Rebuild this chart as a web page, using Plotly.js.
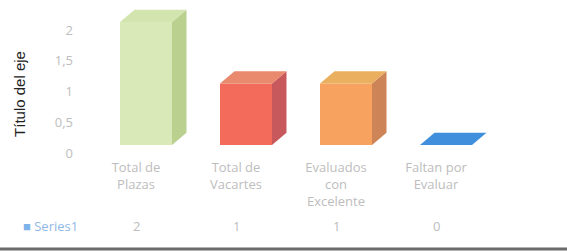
<!DOCTYPE html>
<html><head><meta charset="utf-8">
<script src="https://cdn.plot.ly/plotly-3.0.1.min.js"></script>
<style>html,body{margin:0;padding:0;background:#fff}#c{width:567px;height:251px}</style>
</head><body><div id="c"></div>
<script>
const categories = ["Total de<br>Plazas", "Total de<br>Vacartes", "Evaluados<br>con<br>Excelente", "Faltan por<br>Evaluar"];
const seriesName = "Series1";
const values = [2, 1, 1, 0];
const yTicks = [0, 0.5, 1, 1.5, 2];
const frontColors = ["#d9eab8", "#f36b5b", "#f7a25e", "#3f8fdc"];
const sideColors  = ["#b9d08f", "#c7595c", "#cd8457", "#2f6fb5"];
const topColors   = ["#d2e5ae", "#e98a6e", "#eab060", "#4b98e0"];

const idx = values.map((v, i) => i);
const W = 0.52, OFF = -0.16;      // bar width/offset in category units
const DX = 0.145, DY = 0.2;       // 3D depth offsets

const traces = [];
// invisible trace so the tick axis (back wall) exists
traces.push({type: "scatter", mode: "markers", x: [null], y: [null], xaxis: "x", yaxis: "y",
  hoverinfo: "skip", showlegend: false});
values.forEach((v, i) => {
  const x0 = i + OFF, x1 = i + OFF + W;
  if (v > 0) {
    traces.push({type: "scatter", mode: "lines", fill: "toself", xaxis: "x", yaxis: "y2",
      x: [x1, x1 + DX, x1 + DX, x1, x1], y: [0, DY, v + DY, v, 0],
      fillcolor: sideColors[i], line: {width: 0}, hoverinfo: "skip", showlegend: false});
  }
  traces.push({type: "scatter", mode: "lines", fill: "toself", xaxis: "x", yaxis: "y2",
    x: [x0, x0 + DX, x1 + DX, x1, x0], y: [v, v + DY, v + DY, v, v],
    fillcolor: v > 0 ? topColors[i] : frontColors[i], line: {width: 0}, hoverinfo: "skip", showlegend: false});
});
traces.push({type: "bar", x: idx, y: values, xaxis: "x", yaxis: "y2", width: W, offset: OFF,
  marker: {color: frontColors, line: {width: 0}}, name: seriesName, showlegend: false});

const labelFont = {family: "Open Sans, Liberation Sans, sans-serif", size: 13, color: "#bdbdbd"};
const annotations = values.map((v, i) => ({
  xref: "x", yref: "paper", x: i, y: -0.444, text: String(v), showarrow: false,
  font: labelFont, xanchor: "center", yanchor: "middle"}));
annotations.push({xref: "paper", yref: "paper", x: -0.152, y: -0.444, xanchor: "left", yanchor: "middle",
  showarrow: false, text: '<span style="color:#7db3ea">■</span> ' + seriesName,
  font: {family: "Open Sans, Liberation Sans, sans-serif", size: 13, color: "#8fb8e4"}});
annotations.push({xref: "paper", yref: "paper", x: -0.153, y: 0.42, xanchor: "center", yanchor: "middle",
  textangle: -90, showarrow: false, text: "Título del eje",
  font: {family: "Liberation Sans, Arial, sans-serif", size: 15, color: "#222"}});

const layout = {
  width: 567, height: 251,
  margin: {l: 86, r: 51, t: 5, b: 93},
  paper_bgcolor: "#fff", plot_bgcolor: "#fff",
  separators: ",.",
  showlegend: false,
  xaxis: {range: [-0.5, 3.8], tickmode: "array", tickvals: idx, ticktext: categories,
    showgrid: false, zeroline: false, showline: false, ticks: "", tickfont: labelFont, fixedrange: true},
  yaxis: {range: [-0.081, 2.407], tickmode: "array", tickvals: yTicks, showgrid: false, zeroline: false,
    showline: false, ticks: "", tickfont: labelFont, ticklabelstandoff: 12},
  yaxis2: {range: [-0.211, 2.276], overlaying: "y", visible: false},
  annotations: annotations,
  shapes: [{type: "line", xref: "paper", yref: "paper", x0: -0.2, x1: 1.2, y0: -0.595, y1: -0.595,
    line: {color: "#6a6a6a", width: 3}}]
};
Plotly.newPlot("c", traces, layout, {displayModeBar: false, staticPlot: true});
</script></body></html>
